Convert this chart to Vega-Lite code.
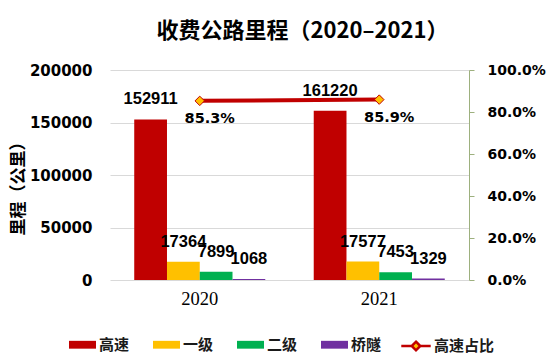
{
  "$schema": "https://vega.github.io/schema/vega-lite/v6.json",
  "width": 359,
  "height": 210,
  "autosize": {"type": "none"},
  "padding": {"left": 110, "top": 70, "right": 79, "bottom": 78},
  "background": "white",
  "title": {
    "text": "收费公路里程（2020–2021）",
    "font": "Noto Sans CJK SC",
    "fontSize": 22,
    "fontWeight": "bold",
    "color": "#000000",
    "anchor": "middle",
    "offset": 20,
    "dx": 13
  },
  "datasets": {
    "bars": [
      {"year": "2020", "series": "高速", "value": 152911},
      {"year": "2020", "series": "一级", "value": 17364},
      {"year": "2020", "series": "二级", "value": 7899},
      {"year": "2020", "series": "桥隧", "value": 1068},
      {"year": "2021", "series": "高速", "value": 161220},
      {"year": "2021", "series": "一级", "value": 17577},
      {"year": "2021", "series": "二级", "value": 7453},
      {"year": "2021", "series": "桥隧", "value": 1329}
    ],
    "ratio": [
      {"year": "2020", "series": "高速占比", "ratio": 0.853},
      {"year": "2021", "series": "高速占比", "ratio": 0.859}
    ]
  },
  "layer": [
    {
      "data": {"name": "bars"},
      "encoding": {
        "x": {"field": "year", "type": "nominal", "title": null, "scale": {"paddingInner": 0.27, "paddingOuter": 0.135}},
        "xOffset": {"field": "series", "type": "nominal", "scale": {"domain": ["高速", "一级", "二级", "桥隧"], "paddingInner": 0, "paddingOuter": 0}},
        "y": {
          "field": "value",
          "type": "quantitative",
          "scale": {"domain": [0, 200000], "nice": false},
          "axis": {
            "orient": "left",
            "values": [0, 50000, 100000, 150000, 200000],
            "format": "d",
            "domain": false,
            "ticks": false,
            "grid": true,
            "gridColor": "#D9D9D9",
            "gridWidth": 1,
            "labelFont": "DejaVu Sans",
            "labelFontSize": 15,
            "labelFontWeight": "bold",
            "labelColor": "#000000",
            "labelPadding": 18,
            "title": "里程（公里）",
            "titleFont": "Noto Sans CJK SC",
            "titleFontSize": 17,
            "titleFontWeight": "bold",
            "titleColor": "#000000",
            "titlePadding": 2,
            "titleY": 114
          }
        }
      },
      "layer": [
        {
          "mark": {"type": "bar"},
          "encoding": {
            "color": {
              "field": "series",
              "type": "nominal",
              "scale": {
                "domain": ["高速", "一级", "二级", "桥隧"],
                "range": ["#C00000", "#FFC000", "#00B050", "#7030A0"]
              },
              "legend": {
                "title": null,
                "orient": "none",
                "legendX": -41,
                "legendY": 261,
                "direction": "horizontal",
                "symbolType": "M-1,-0.29H1V0.29H-1Z",
                "symbolSize": 729,
                "symbolStrokeWidth": 0,
                "labelOffset": 3,
                "columnPadding": 23,
                "labelFont": "Noto Sans CJK SC",
                "labelFontSize": 15,
                "labelFontWeight": "bold",
                "labelColor": "#1a1a1a"
              }
            }
          }
        },
        {
          "mark": {"type": "text", "dy": -20, "font": "Liberation Sans", "fontSize": 16.5, "fontWeight": "bold", "color": "#000000"},
          "encoding": {
            "text": {"field": "value", "type": "quantitative", "format": "d"}
          }
        }
      ]
    },
    {
      "data": {"name": "ratio"},
      "encoding": {
        "x": {"field": "year", "type": "nominal", "title": null, "scale": {"paddingInner": 0.27, "paddingOuter": 0.135}},
        "y": {
          "field": "ratio",
          "type": "quantitative",
          "scale": {"domain": [0, 1], "nice": false},
          "axis": {
            "orient": "right",
            "values": [0, 0.2, 0.4, 0.6, 0.8, 1],
            "format": ".1%",
            "grid": false,
            "domain": true,
            "domainColor": "#9DB07E",
            "domainWidth": 1,
            "ticks": true,
            "tickColor": "#9DB07E",
            "tickSize": 5,
            "labelFont": "DejaVu Sans",
            "labelFontSize": 14,
            "labelFontWeight": "bold",
            "labelColor": "#000000",
            "labelPadding": 13,
            "title": null
          }
        }
      },
      "layer": [
        {
          "mark": {"type": "line", "strokeWidth": 4},
          "encoding": {
            "stroke": {
              "field": "series",
              "type": "nominal",
              "scale": {"domain": ["高速占比"], "range": ["#C00000"]},
              "legend": {
                "title": null,
                "orient": "none",
                "legendX": 291,
                "legendY": 261,
                "direction": "horizontal",
                "symbolType": "M-1.09,0H-0.32M0.32,0H1.09M0,-0.32L0.32,0L0,0.32L-0.32,0Z",
                "symbolSize": 729,
                "symbolFillColor": "#FFC000",
                "symbolStrokeWidth": 2.5,
                "labelOffset": 3,
                "labelFont": "Noto Sans CJK SC",
                "labelFontSize": 15,
                "labelFontWeight": "bold",
                "labelColor": "#1a1a1a"
              }
            }
          }
        },
        {"mark": {"type": "point", "shape": "diamond", "filled": true, "fill": "#FFC000", "stroke": "#C00000", "strokeWidth": 1, "size": 90, "opacity": 1}, "encoding": {}},
        {
          "mark": {"type": "text", "dx": 10, "dy": 18, "font": "DejaVu Sans", "fontSize": 14.5, "fontWeight": "bold", "color": "#000000"},
          "encoding": {"text": {"field": "ratio", "type": "quantitative", "format": ".1%"}}
        }
      ]
    }
  ],
  "resolve": {"scale": {"y": "independent"}},
  "config": {
    "view": {"stroke": null},
    "axisX": {
      "domain": false,
      "ticks": false,
      "grid": false,
      "labelAngle": 0,
      "labelFont": "Liberation Serif",
      "labelFontSize": 18.5,
      "labelColor": "#000000",
      "labelPadding": 9
    }
  }
}
